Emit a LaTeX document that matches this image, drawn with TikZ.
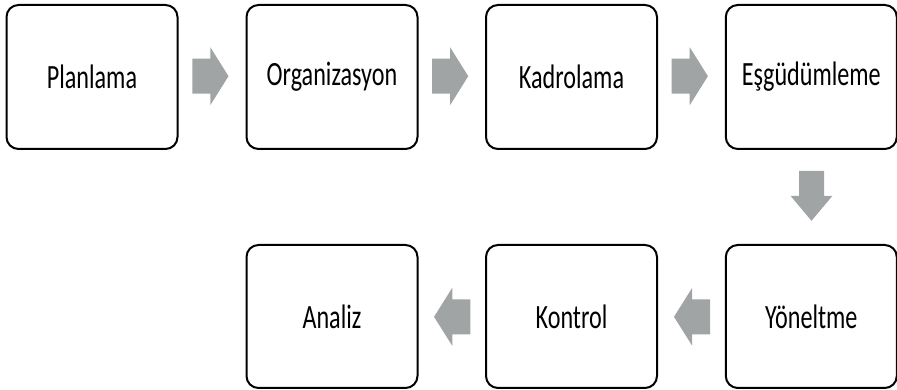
\documentclass[tikz,border=0pt]{standalone}
\usepackage{fontspec}
\setmainfont{Carlito}
\usetikzlibrary{calc}
\definecolor{arrowgray}{RGB}{160,164,165}
\newcommand{\steptext}[1]{\scalebox{0.71}[1]{\fontsize{34}{40}\selectfont #1}}
\tikzset{
  stepbox/.style={draw=black, line width=2pt, rounded corners=12pt, fill=white,
    minimum width=171pt, minimum height=144pt, inner sep=0pt},
  harrow/.pic={\fill[arrowgray] (-18,-17.5) -- (0,-17.5) -- (0,-29) -- (18.2,0)
      -- (0,29) -- (0,17.5) -- (-18,17.5) -- cycle;},
  varrow/.pic={\fill[arrowgray] (-25,-12.5) -- (0,-12.5) -- (0,-21) -- (25,0)
      -- (0,21) -- (0,12.5) -- (-25,12.5) -- cycle;}
}
\begin{document}
\begin{tikzpicture}[x=1pt,y=1pt]
  \useasboundingbox (0,0) rectangle (897,390);
  % top row
  \node[stepbox] (plan) at (92,313)    {\steptext{Planlama}};
  \node[stepbox] (org)  at (332,313)   {\steptext{Organizasyon}};
  \node[stepbox] (kad)  at (571.5,313) {\steptext{Kadrolama}};
  \node[stepbox] (esg)  at (811.3,313) {\steptext{Eşgüdümleme}};
  % bottom row
  \node[stepbox, minimum height=143pt] (ana) at (332,73.5)   {\steptext{Analiz}};
  \node[stepbox, minimum height=143pt] (kon) at (571.5,73.5) {\steptext{Kontrol}};
  \node[stepbox, minimum height=143pt] (yon) at (811.3,73.5) {\steptext{Yöneltme}};
  % block arrows between the steps
  \pic at ($($(plan.east)!0.5!(org.west)$)+(-1.7,0.8)$) {harrow};
  \pic at ($($(org.east)!0.5!(kad.west)$)+(-1.7,0.8)$) {harrow};
  \pic at ($($(kad.east)!0.5!(esg.west)$)+(-1.7,0.8)$) {harrow};
  \pic at ($($(esg.south)!0.5!(yon.north)$)+(0.2,1.2)$) [rotate=-90] {varrow};
  \pic at ($($(kon.west)!0.5!(yon.east)$)+(0.8,-0.3)$) [rotate=180] {harrow};
  \pic at ($($(ana.east)!0.5!(kon.west)$)+(0.5,-0.3)$) [rotate=180] {harrow};
\end{tikzpicture}
\end{document}
